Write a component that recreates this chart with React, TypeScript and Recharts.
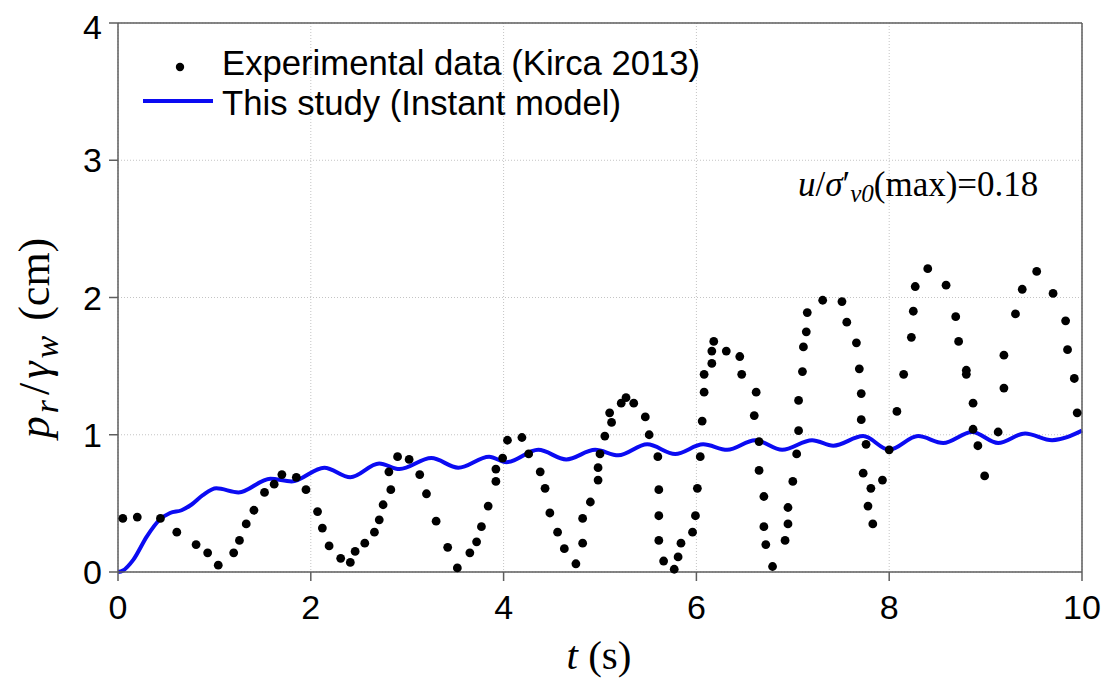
import React from 'react';
import { ComposedChart, Scatter, Line, XAxis, YAxis, CartesianGrid, Label } from 'recharts';

const expT = [
  0.05, 0.2, 0.44, 0.61, 0.81, 0.93, 1.04, 1.2, 1.26, 1.33, 1.41, 1.52, 1.62, 1.7, 1.85, 1.95,
  2.07, 2.12, 2.19, 2.31, 2.41, 2.46, 2.56, 2.66, 2.71, 2.75, 2.81, 2.83, 2.9, 3.02, 3.13, 3.2,
  3.3, 3.42, 3.52, 3.65, 3.72, 3.77, 3.84, 3.92, 3.92, 3.99, 4.04, 4.19, 4.26, 4.38, 4.43, 4.48,
  4.56, 4.63, 4.75, 4.82, 4.82, 4.9, 4.98, 4.98, 5.0, 5.05, 5.1, 5.12, 5.22, 5.27, 5.35, 5.47,
  5.51, 5.6, 5.61, 5.61, 5.61, 5.66, 5.77, 5.81, 5.84, 5.96, 5.99, 6.01, 6.04, 6.06, 6.08, 6.08,
  6.16, 6.16, 6.18, 6.31, 6.45, 6.47, 6.6, 6.62, 6.65, 6.65, 6.7, 6.7, 6.72, 6.79, 6.92, 6.95,
  6.95, 7.0, 7.04, 7.06, 7.06, 7.1, 7.11, 7.14, 7.15, 7.31, 7.51, 7.56, 7.66, 7.69, 7.71, 7.71,
  7.73, 7.76, 7.78, 7.81, 7.83, 7.93, 8.0, 8.08, 8.15, 8.23, 8.25, 8.27, 8.4, 8.59, 8.69, 8.72,
  8.8, 8.8, 8.87, 8.87, 8.92, 8.99, 9.13, 9.19, 9.19, 9.31, 9.38, 9.53, 9.7, 9.83, 9.85, 9.92,
  9.95,
];
const expV = [
  0.39, 0.4, 0.39, 0.29, 0.2, 0.14, 0.05, 0.14, 0.23, 0.35, 0.45, 0.58, 0.64, 0.71, 0.69, 0.6,
  0.44, 0.32, 0.19, 0.1, 0.07, 0.15, 0.21, 0.29, 0.38, 0.49, 0.73, 0.6, 0.84, 0.82, 0.71, 0.57,
  0.37, 0.18, 0.03, 0.14, 0.22, 0.33, 0.48, 0.66, 0.75, 0.83, 0.96, 0.98, 0.86, 0.73, 0.61, 0.43,
  0.29, 0.17, 0.06, 0.21, 0.39, 0.51, 0.67, 0.76, 0.86, 0.99, 1.16, 1.09, 1.23, 1.27, 1.23, 1.13,
  1.0, 0.84, 0.6, 0.41, 0.23, 0.08, 0.02, 0.11, 0.21, 0.29, 0.41, 0.61, 0.84, 1.1, 1.31, 1.44,
  1.52, 1.61, 1.68, 1.61, 1.57, 1.44, 1.14, 1.31, 0.95, 0.74, 0.55, 0.33, 0.2, 0.04, 0.23, 0.35,
  0.47, 0.66, 0.86, 1.03, 1.25, 1.46, 1.64, 1.75, 1.89, 1.98, 1.97, 1.82, 1.67, 1.48, 1.3, 1.11,
  0.72, 0.93, 0.48, 0.61, 0.35, 0.67, 0.89, 1.17, 1.44, 1.71, 1.9, 2.08, 2.21, 2.09, 1.86, 1.68,
  1.47, 1.44, 1.23, 1.04, 0.92, 0.7, 1.02, 1.34, 1.58, 1.88, 2.06, 2.19, 2.03, 1.83, 1.62, 1.41,
  1.16,
];

// This study (Instant model)
const modelT = [
  0, 0.05, 0.16, 0.3, 0.43, 0.54, 0.66, 0.76, 0.88, 1.02, 1.25, 1.58, 1.8, 2.14, 2.41, 2.71,
  2.92, 3.25, 3.53, 3.85, 4.03, 4.36, 4.65, 4.95, 5.19, 5.49, 5.78, 6.07, 6.32, 6.61, 6.89, 7.2,
  7.42, 7.73, 8.0, 8.3, 8.56, 8.86, 9.13, 9.41, 9.69, 10,
];
const modelV = [
  0, 0.01, 0.09, 0.26, 0.38, 0.43, 0.45, 0.49, 0.56, 0.61, 0.58, 0.68, 0.66, 0.76, 0.69, 0.79,
  0.75, 0.83, 0.76, 0.84, 0.8, 0.89, 0.82, 0.89, 0.85, 0.93, 0.86, 0.93, 0.89, 0.96, 0.89, 0.96,
  0.92, 0.99, 0.89, 0.99, 0.94, 1.02, 0.94, 1.01, 0.96, 1.03,
];

const xTicks = [0, 2, 4, 6, 8, 10];
const yTicks = [0, 1, 2, 3, 4];

const expData = expT.map((t, i) => ({ t, v: expV[i] }));
const modelData = modelT.map((t, i) => ({ t, v: modelV[i] }));

const SANS = '"Liberation Sans", Arial, Helvetica, sans-serif';
const SERIF = '"Liberation Serif", "Times New Roman", serif';
const AXIS = '#5e5e5e';
const BLUE = '#0b0bf2';

const YTitle = (props: any) => {
  const x = props.viewBox.x + 41;
  const y = 330;
  return (
    <text x={x} y={y} transform={`rotate(-90 ${x} ${y})`} textAnchor="middle"
      fontFamily={SERIF} fontSize={44} fill="#000">
      <tspan fontStyle="italic">p</tspan>
      <tspan fontStyle="italic" fontSize={34} dx={3} dy={9}>r</tspan>
      <tspan dx={5} dy={-9}>/</tspan>
      <tspan fontStyle="italic" dx={4}>γ</tspan>
      <tspan fontStyle="italic" fontSize={34} dx={3} dy={9}>w</tspan>
      <tspan dx={4} dy={-9}> (cm)</tspan>
    </text>
  );
};

const XTitle = () => (
  <text x={591} y={661} textAnchor="middle" fontFamily={SERIF} fontSize={41} fill="#000">
    <tspan fontStyle="italic">t</tspan>
    <tspan> (s)</tspan>
  </text>
);

const Dot = (p: any) => <circle cx={p.cx} cy={p.cy} r={4.4} fill="#000" />;

export default function App() {
  return (
    <div style={{ position: 'relative', width: 1094, height: 676, background: '#fff' }}>
      <ComposedChart width={1094} height={676} margin={{ top: 0, right: 0, bottom: 0, left: 0 }}>
        <CartesianGrid stroke="#c4c4c4" strokeDasharray="1 2" />
        <XAxis dataKey="t" type="number" domain={[0, 10]} ticks={xTicks} height={112}
          tickSize={9} tickMargin={14}
          axisLine={{ stroke: AXIS, strokeWidth: 1.5 }} tickLine={{ stroke: AXIS, strokeWidth: 1.5 }}
          tick={{ fill: '#000', fontSize: 34, fontFamily: SANS }}>
          <Label content={<XTitle />} />
        </XAxis>
        <XAxis xAxisId="top" orientation="top" type="number" domain={[0, 10]} ticks={xTicks}
          height={15} tickSize={9} tick={false}
          axisLine={{ stroke: AXIS, strokeWidth: 1.5 }} tickLine={{ stroke: AXIS, strokeWidth: 1.5 }} />
        <YAxis type="number" domain={[0, 4]} ticks={yTicks} width={110} tickSize={9} tickMargin={7}
          axisLine={{ stroke: AXIS, strokeWidth: 1.5 }} tickLine={{ stroke: AXIS, strokeWidth: 1.5 }}
          tick={{ fill: '#000', fontSize: 34, fontFamily: SANS }}>
          <Label content={<YTitle />} />
        </YAxis>
        <YAxis yAxisId="r" orientation="right" type="number" domain={[0, 4]} ticks={yTicks}
          width={20} tickSize={10} tick={false}
          axisLine={{ stroke: AXIS, strokeWidth: 1.5 }} tickLine={{ stroke: AXIS, strokeWidth: 1.5 }} />
        <Line data={modelData} dataKey="v" type="monotone" stroke={BLUE} strokeWidth={4}
          dot={false} activeDot={false} isAnimationActive={false} />
        <Scatter data={expData} dataKey="v" fill="#000" shape={<Dot />} isAnimationActive={false} />
      </ComposedChart>

      {/* legend */}
      <svg style={{ position: 'absolute', left: 130, top: 50, overflow: 'visible' }} width={90} height={60}>
        <circle cx={42} cy={9} r={4.2} fill="#000" />
        <line x1={5} y1={43} x2={75} y2={43} stroke={BLUE} strokeWidth={4} />
      </svg>
      <div style={{ position: 'absolute', left: 214, top: 35, fontFamily: SANS, fontSize: 34.7,
        lineHeight: '40px', whiteSpace: 'nowrap', color: '#000' }}>
        Experimental data (Kirca 2013)
      </div>
      <div style={{ position: 'absolute', left: 214, top: 75, fontFamily: SANS, fontSize: 34.7,
        lineHeight: '40px', whiteSpace: 'nowrap', color: '#000' }}>
        This study (Instant model)
      </div>

      {/* annotation */}
      <div style={{ position: 'absolute', left: 790, top: 157, fontFamily: SERIF, fontSize: 35,
        lineHeight: '40px', whiteSpace: 'nowrap', color: '#000' }}>
        <i>u</i>/<i>σ</i>′<sub style={{ fontSize: 25, fontStyle: 'italic', verticalAlign: '-6px' }}>v0</sub>(max)=0.18
      </div>
    </div>
  );
}
